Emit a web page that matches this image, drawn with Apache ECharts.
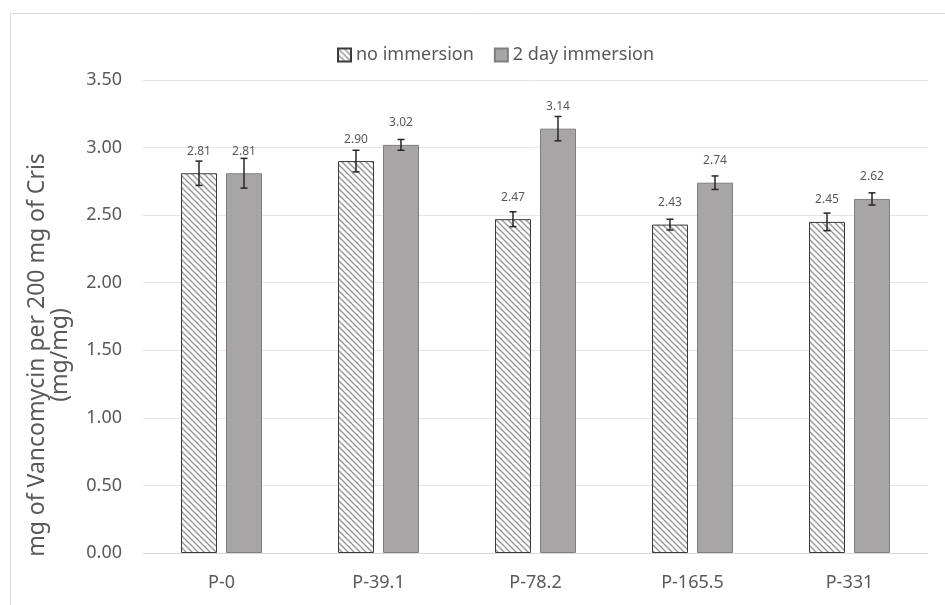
<!DOCTYPE html>
<html>
<head>
<meta charset="utf-8">
<script src="https://cdn.jsdelivr.net/npm/echarts@6/dist/echarts.min.js"></script>
<style>html,body{margin:0;padding:0;background:#fff}#c{width:945px;height:605px}</style>
</head>
<body>
<div id="c"></div>
<script>
var categories = ['P-0', 'P-39.1', 'P-78.2', 'P-165.5', 'P-331'];
var noImmersion = [2.81, 2.90, 2.47, 2.43, 2.45];
var noImmersionErr = [0.09, 0.08, 0.055, 0.04, 0.065];
var dayImmersion = [2.81, 3.02, 3.14, 2.74, 2.62];
var dayImmersionErr = [0.11, 0.04, 0.09, 0.05, 0.045];
var yTicks = [0, 0.5, 1, 1.5, 2, 2.5, 3, 3.5];
var yTitle = ['mg of Vancomycin per 200 mg of Cris', '(mg/mg)'];

// hatch pattern
var tile = document.createElement('canvas');
var s = 6;
tile.width = s; tile.height = s;
var ctx = tile.getContext('2d');
ctx.fillStyle = '#ffffff';
ctx.fillRect(0, 0, s, s);
ctx.strokeStyle = '#9a9a9a';
ctx.lineWidth = 1.5;
ctx.beginPath();
ctx.moveTo(-1, -1); ctx.lineTo(s + 1, s + 1);
ctx.moveTo(-1, s - 1); ctx.lineTo(1, s + 1);
ctx.moveTo(s - 1, -1); ctx.lineTo(s + 1, 1);
ctx.stroke();

var textColor = '#595959';
var fontFam = '"Noto Sans", sans-serif';
var offset = 22.5;

function errSeries(vals, errs, dx) {
  return {
    type: 'custom',
    silent: true,
    z: 5,
    data: vals.map(function (v, i) { return [i, v, errs[i]]; }),
    renderItem: function (params, api) {
      var i = api.value(0), v = api.value(1), e = api.value(2);
      var top = api.coord([i, v + e]);
      var bot = api.coord([i, v - e]);
      var x = top[0] + dx;
      var cap = 3.5;
      return {
        type: 'group',
        children: [
          { type: 'line', shape: { x1: x, y1: top[1], x2: x, y2: bot[1] }, style: { stroke: '#262626', lineWidth: 1.5 } },
          { type: 'line', shape: { x1: x - cap, y1: top[1], x2: x + cap, y2: top[1] }, style: { stroke: '#262626', lineWidth: 1.5 } },
          { type: 'line', shape: { x1: x - cap, y1: bot[1], x2: x + cap, y2: bot[1] }, style: { stroke: '#262626', lineWidth: 1.5 } }
        ]
      };
    }
  };
}

var chart = echarts.init(document.getElementById('c'), null, { renderer: 'canvas' });
chart.setOption({
  animation: false,
  backgroundColor: '#ffffff',
  graphic: [{
    type: 'rect',
    shape: { x: 10.5, y: 13.5, width: 960, height: 620 },
    style: { fill: 'none', stroke: '#d9d9d9', lineWidth: 1 },
    silent: true,
    z: -1
  }, {
    type: 'text',
    x: 49,
    y: 355,
    rotation: Math.PI / 2,
    silent: true,
    style: {
      text: yTitle.join('\n'),
      fill: textColor,
      font: '23px "Noto Sans", sans-serif',
      lineHeight: 23,
      align: 'center',
      verticalAlign: 'middle'
    }
  }],
  legend: {
    top: 41,
    left: 332,
    itemWidth: 13,
    itemHeight: 13,
    itemGap: 20,
    icon: 'rect',
    textStyle: { color: textColor, fontSize: 18, fontFamily: fontFam },
    data: ['no immersion', '2 day immersion']
  },
  grid: { left: 143, right: 17, top: 80, bottom: 52 },
  xAxis: {
    type: 'category',
    data: categories,
    axisTick: { show: false },
    axisLine: { lineStyle: { color: '#d9d9d9', width: 1 } },
    axisLabel: { color: textColor, fontSize: 18, fontFamily: fontFam, margin: 21 }
  },
  yAxis: {
    type: 'value',
    min: yTicks[0],
    max: yTicks[yTicks.length - 1],
    interval: 0.5,
    axisLine: { show: false },
    axisTick: { show: false },
    splitLine: { lineStyle: { color: '#e6e6e6', width: 1 } },
    axisLabel: {
      color: textColor, fontSize: 18, fontFamily: fontFam, margin: 21,
      formatter: function (v) { return v.toFixed(2); }
    }
  },
  series: [
    {
      name: 'no immersion',
      type: 'bar',
      barWidth: 36,
      barGap: '25%',
      data: noImmersion,
      itemStyle: { color: { image: tile, repeat: 'repeat' }, borderColor: '#3a3a3a', borderWidth: 1 },
      label: {
        show: true, position: 'top', distance: 16, color: textColor, fontSize: 12, fontFamily: fontFam,
        formatter: function (p) { return p.value.toFixed(2); }
      }
    },
    {
      name: '2 day immersion',
      type: 'bar',
      barWidth: 36,
      barGap: '25%',
      data: dayImmersion,
      itemStyle: { color: '#a8a5a6', borderColor: '#7f7f7f', borderWidth: 1 },
      label: {
        show: true, position: 'top', distance: 16, color: textColor, fontSize: 12, fontFamily: fontFam,
        formatter: function (p) { return p.value.toFixed(2); }
      }
    },
    errSeries(noImmersion, noImmersionErr, -offset),
    errSeries(dayImmersion, dayImmersionErr, offset)
  ]
});
</script>
</body>
</html>
